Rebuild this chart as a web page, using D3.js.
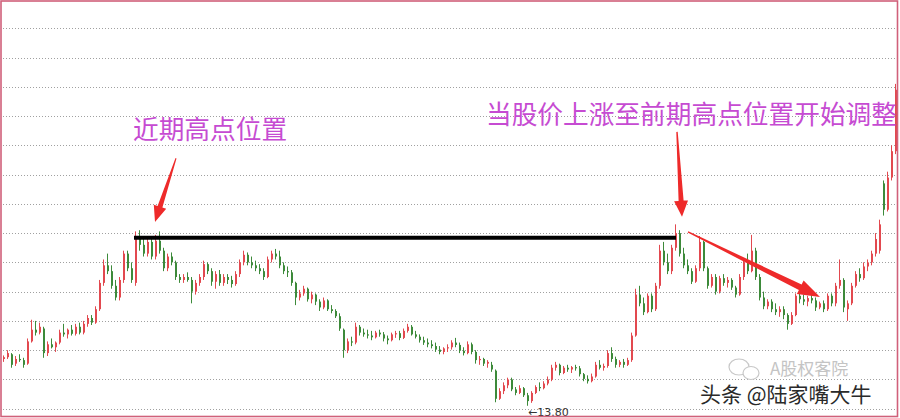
<!DOCTYPE html>
<html><head><meta charset="utf-8">
<script src="https://cdn.jsdelivr.net/npm/d3@7/dist/d3.min.js"></script>
<style>html,body{margin:0;padding:0;background:#fff;overflow:hidden}</style>
</head><body><svg id="chart" width="900" height="418"></svg>
<script>
// ---- data ----
const opens = [
14.60,14.63,14.68,14.52,14.60,14.58,14.52,14.90,15.10,15.05,
15.12,14.70,14.85,14.80,14.88,15.05,15.02,15.10,15.03,15.15,
15.05,15.20,15.30,15.22,15.45,15.90,16.20,16.10,15.85,15.65,
15.95,16.40,16.15,15.90,16.65,16.55,16.40,16.60,16.35,16.62,
16.45,16.15,16.35,16.25,16.00,15.95,16.00,15.95,15.75,15.90,
16.00,16.22,16.10,15.92,16.05,15.90,16.00,15.95,15.88,16.05,
16.25,16.38,16.25,16.20,16.15,16.10,16.00,16.30,16.40,16.35,
16.20,16.10,16.08,15.90,15.65,15.72,15.80,15.62,15.70,15.58,
15.48,15.60,15.45,15.42,15.33,15.10,14.75,14.90,14.88,15.15,
15.05,15.02,15.00,14.97,15.05,15.02,14.95,14.92,15.02,15.04,
14.96,15.08,15.15,15.02,14.98,14.92,14.88,14.85,14.82,14.76,
14.72,14.78,14.80,14.88,14.84,14.74,14.70,14.85,14.72,14.58,
14.60,14.52,14.50,14.40,13.92,14.05,14.15,14.25,14.08,14.02,
14.10,13.98,13.88,14.02,14.12,14.10,14.18,14.25,14.45,14.50,
14.36,14.45,14.42,14.46,14.44,14.34,14.26,14.22,14.30,14.50,
14.45,14.48,14.70,14.60,14.50,14.55,14.50,14.58,15.00,15.70,
15.55,15.40,15.68,15.45,15.85,16.45,16.25,16.10,16.50,16.75,
16.40,16.20,16.10,15.92,16.15,16.60,16.15,15.85,16.00,15.75,
15.98,15.90,15.95,15.82,15.70,16.00,16.25,16.10,16.45,16.00,
15.65,15.50,15.58,15.45,15.40,15.45,15.35,15.20,15.35,15.68,
15.62,15.58,15.64,15.60,15.48,15.55,15.45,15.68,15.55,15.85,
15.95,15.45,15.55,15.85,16.05,15.98,16.18,16.25,16.40,16.45,
17.60,17.15,17.70,18.15];
const highs = [
14.66,14.75,14.70,14.65,14.68,14.62,14.95,15.27,15.25,15.22,
15.15,14.90,14.95,14.90,15.10,15.20,15.12,15.18,15.20,15.22,
15.25,15.35,15.35,15.50,15.95,16.30,16.40,16.20,15.95,16.00,
16.45,16.45,16.25,16.78,16.80,16.70,16.65,16.68,16.72,16.78,
16.50,16.40,16.42,16.28,16.05,16.05,16.08,16.00,15.95,16.05,
16.28,16.25,16.15,16.10,16.12,16.05,16.05,16.02,16.10,16.30,
16.45,16.42,16.35,16.28,16.22,16.15,16.35,16.45,16.48,16.45,
16.25,16.18,16.12,15.92,15.78,15.85,15.82,15.75,15.72,15.62,
15.65,15.62,15.52,15.45,15.38,15.12,14.95,14.98,15.22,15.18,
15.12,15.10,15.08,15.08,15.10,15.06,15.00,15.05,15.08,15.08,
15.12,15.20,15.18,15.08,15.02,14.98,14.95,14.92,14.88,14.82,
14.80,14.85,14.92,14.96,14.88,14.80,14.90,14.88,14.75,14.65,
14.62,14.58,14.55,14.42,14.10,14.20,14.28,14.28,14.12,14.15,
14.12,14.02,14.05,14.15,14.20,14.22,14.30,14.50,14.55,14.52,
14.48,14.50,14.48,14.50,14.48,14.36,14.32,14.35,14.55,14.58,
14.52,14.75,14.80,14.64,14.58,14.60,14.62,15.05,15.80,15.85,
15.65,15.72,15.72,15.90,16.55,16.60,16.40,16.55,16.90,16.80,
16.50,16.30,16.15,16.20,16.70,16.62,16.18,16.05,16.05,16.02,
16.05,16.00,15.98,15.85,16.05,16.30,16.40,16.72,16.50,16.05,
15.75,15.62,15.62,15.55,15.50,15.50,15.38,15.40,15.72,15.75,
15.70,15.68,15.70,15.65,15.58,15.60,15.72,15.72,15.90,16.30,
15.98,15.60,15.90,16.10,16.15,16.25,16.30,16.45,16.75,16.98,
17.65,17.80,18.25,19.30];
const lows = [
14.55,14.60,14.45,14.48,14.55,14.45,14.50,14.88,15.00,15.02,
14.62,14.65,14.78,14.72,14.85,14.98,14.95,15.00,15.00,15.02,
15.02,15.15,15.18,15.20,15.42,15.85,16.05,15.80,15.60,15.60,
15.90,16.10,15.90,15.85,16.45,16.35,16.35,16.30,16.30,16.40,
16.10,16.10,16.20,15.95,15.90,15.90,15.92,15.55,15.70,15.85,
15.95,16.05,15.85,15.80,15.85,15.85,15.88,15.82,15.85,16.00,
16.20,16.20,16.15,16.10,16.05,15.95,15.98,16.25,16.30,16.15,
16.05,16.00,15.85,15.52,15.60,15.68,15.58,15.55,15.52,15.42,
15.45,15.42,15.38,15.30,15.08,14.62,14.70,14.82,14.85,15.00,
14.98,14.95,14.92,14.95,14.98,14.90,14.85,14.90,14.96,14.92,
14.94,15.05,15.00,14.95,14.88,14.84,14.80,14.78,14.72,14.68,
14.68,14.72,14.76,14.80,14.70,14.66,14.68,14.68,14.52,14.50,
14.48,14.45,14.38,13.86,13.90,14.00,14.10,14.05,13.98,14.00,
13.95,13.80,13.85,14.00,14.05,14.08,14.15,14.22,14.40,14.32,
14.34,14.38,14.36,14.40,14.30,14.22,14.18,14.20,14.28,14.42,
14.40,14.45,14.55,14.45,14.46,14.45,14.48,14.55,14.98,15.50,
15.35,15.38,15.40,15.42,15.80,16.20,16.05,16.05,16.45,16.35,
16.15,16.05,15.88,15.90,16.10,16.10,15.80,15.82,15.70,15.72,
15.85,15.82,15.78,15.65,15.68,15.95,16.05,16.08,15.95,15.60,
15.45,15.45,15.40,15.35,15.32,15.28,15.10,15.18,15.33,15.55,
15.52,15.50,15.55,15.42,15.45,15.40,15.42,15.50,15.50,15.80,
15.40,15.25,15.52,15.82,15.92,15.95,16.10,16.20,16.35,16.40,
17.05,17.12,17.65,18.10];
const closes = [
14.63,14.70,14.50,14.60,14.58,14.50,14.90,15.10,15.05,15.15,
14.70,14.85,14.80,14.88,15.05,15.02,15.10,15.03,15.15,15.05,
15.20,15.30,15.22,15.45,15.90,16.20,16.10,15.85,15.65,15.95,
16.40,16.15,15.95,16.65,16.55,16.40,16.60,16.35,16.62,16.45,
16.15,16.35,16.25,16.00,15.95,16.00,15.95,15.75,15.90,16.00,
16.22,16.10,15.92,16.05,15.90,16.00,15.95,15.88,16.05,16.25,
16.38,16.25,16.20,16.15,16.10,16.00,16.30,16.40,16.35,16.20,
16.10,16.08,15.90,15.65,15.72,15.80,15.62,15.70,15.58,15.48,
15.60,15.45,15.42,15.33,15.12,14.75,14.90,14.88,15.15,15.05,
15.02,15.00,14.97,15.05,15.02,14.95,14.92,15.02,15.04,14.96,
15.08,15.15,15.02,14.98,14.92,14.88,14.85,14.82,14.76,14.72,
14.78,14.80,14.88,14.84,14.74,14.70,14.85,14.72,14.58,14.60,
14.52,14.55,14.42,13.92,14.05,14.15,14.25,14.08,14.02,14.10,
13.98,13.88,14.02,14.12,14.10,14.18,14.25,14.45,14.50,14.36,
14.45,14.42,14.46,14.44,14.34,14.26,14.22,14.30,14.50,14.45,
14.48,14.70,14.60,14.50,14.55,14.50,14.58,15.00,15.70,15.55,
15.40,15.68,15.45,15.85,16.45,16.25,16.10,16.50,16.75,16.40,
16.20,16.10,15.92,16.15,16.60,16.15,15.85,16.00,15.75,15.98,
15.90,15.95,15.82,15.70,16.00,16.25,16.10,16.45,16.00,15.65,
15.50,15.58,15.45,15.40,15.45,15.35,15.20,15.35,15.68,15.62,
15.58,15.64,15.60,15.48,15.55,15.45,15.68,15.55,15.85,15.95,
15.48,15.55,15.85,16.05,15.98,16.18,16.25,16.40,16.65,16.90,
17.15,17.70,18.15,19.20];

const gridPrices = [13.75,14.25,14.75,15.25,15.75,16.25,16.75,17.25,17.75,18.25,18.75,19.25,19.75,20.25];
const lowLabelText = "\u219013.80";

// annotations, in (candle index, price)
const refLine = {from: 32.5, to: 168, price: 16.67};
const arrows = [
  {from:[43.0,18.03], to:[37.75,16.94], w0:1, w1:5, hw:13, hl:16},
  {from:[168.25,18.48], to:[169.5,17.03], w0:1.5, w1:5, hw:14, hl:16},
  {from:[171,16.77], to:[204,15.66], w0:1.5, w1:6, hw:15, hl:22}
];
const notes = [
  {text:"近期高点位置", x:133, y:139},
  {text:"当股价上涨至前期高点位置开始调整", x:486, y:124}
];
const watermarkMain = "头条 @陆家嘴大牛";
const watermarkSub = "A股权客院";

// ---- drawing ----
const W = 900, H = 418;
const svg = d3.select("#chart");
const n = closes.length;
const data = d3.range(n).map(i => ({i, o:opens[i], h:highs[i], l:lows[i], c:closes[i]}));

const x = d3.scaleBand().domain(d3.range(n)).range([2, 898]).paddingInner(0.5).paddingOuter(0.25);
const cx = i => x(Math.floor(i)) + x.bandwidth()/2 + (i - Math.floor(i)) * x.step();
const y = d3.scaleLinear().domain([13.75, 20.25]).range([408.7, 28.3]);

svg.append("rect").attr("width", W).attr("height", H).attr("fill", "#fff");

// grid
svg.append("g").selectAll("line").data(gridPrices).join("line")
  .attr("x1", 3).attr("x2", 896)
  .attr("y1", d => Math.round(y(d)) + 0.5).attr("y2", d => Math.round(y(d)) + 0.5)
  .attr("stroke", "#a0a0a0").attr("stroke-width", 1).attr("stroke-dasharray", "1,2");

// candles
const up = "#e2494f", down = "#3d8a3a";
const g = svg.append("g");
g.selectAll("line.wick").data(data).join("line").attr("class","wick")
  .attr("x1", d => cx(d.i) - 0.5).attr("x2", d => cx(d.i) - 0.5)
  .attr("y1", d => y(d.h)).attr("y2", d => y(d.l))
  .attr("stroke", d => d.c >= d.o ? up : down).attr("stroke-width", 1);
g.selectAll("rect.body").data(data).join("rect").attr("class","body")
  .attr("x", d => x(d.i)).attr("width", x.bandwidth())
  .attr("y", d => y(Math.max(d.o, d.c)))
  .attr("height", d => Math.max(1, Math.abs(y(d.o) - y(d.c))))
  .attr("fill", d => d.c >= d.o ? up : down);

// reference line
svg.append("line")
  .attr("x1", cx(refLine.from)).attr("x2", cx(refLine.to))
  .attr("y1", y(refLine.price)).attr("y2", y(refLine.price))
  .attr("stroke", "#000").attr("stroke-width", 4);

// arrows
function arrowPath(x1,y1,x2,y2,w0,w1,hw,hl){
  const dx=x2-x1, dy=y2-y1, L=Math.hypot(dx,dy), ux=dx/L, uy=dy/L, nx=-uy, ny=ux;
  const bx=x2-ux*hl, by=y2-uy*hl;
  const p=[[x1+nx*w0/2,y1+ny*w0/2],[bx+nx*w1/2,by+ny*w1/2],[bx+nx*hw/2,by+ny*hw/2],[x2,y2],
           [bx-nx*hw/2,by-ny*hw/2],[bx-nx*w1/2,by-ny*w1/2],[x1-nx*w0/2,y1-ny*w0/2]];
  return "M"+p.map(q=>q[0].toFixed(1)+","+q[1].toFixed(1)).join("L")+"Z";
}
svg.append("g").selectAll("path").data(arrows).join("path")
  .attr("d", a => arrowPath(cx(a.from[0]), y(a.from[1]), cx(a.to[0]), y(a.to[1]), a.w0, a.w1, a.hw, a.hl))
  .attr("fill", "#ee2a2a");

// notes
svg.append("g").selectAll("text").data(notes).join("text")
  .attr("x", d => d.x).attr("y", d => d.y)
  .attr("font-family", "'Noto Sans CJK SC', sans-serif").attr("font-size", 25.7)
  .attr("fill", "#c64bd2").text(d => d.text);

// low label
const minIdx = d3.minIndex(lows);
svg.append("text").attr("x", cx(minIdx)).attr("y", 416)
  .attr("font-family", "'DejaVu Sans', sans-serif").attr("font-size", 11)
  .attr("fill", "#333").text(lowLabelText);

// watermarks
const wm = svg.append("g");
wm.append("ellipse").attr("cx", 739).attr("cy", 367).attr("rx", 10).attr("ry", 8)
  .attr("fill", "none").attr("stroke", "#c8c8c8").attr("stroke-width", 1.2);
wm.append("ellipse").attr("cx", 751).attr("cy", 373).attr("rx", 8).attr("ry", 6.5)
  .attr("fill", "#fff").attr("stroke", "#c8c8c8").attr("stroke-width", 1.2);
wm.append("text").attr("x", 770).attr("y", 375)
  .attr("font-family", "'Noto Sans CJK SC', sans-serif").attr("font-size", 17)
  .attr("fill", "#c4c4c4").text(watermarkSub);
wm.append("text").attr("x", 700).attr("y", 402)
  .attr("font-family", "'Noto Sans CJK SC', sans-serif").attr("font-size", 21)
  .attr("fill", "#2a2a2a").attr("stroke", "#fff").attr("stroke-width", 3)
  .attr("paint-order", "stroke").text(watermarkMain);

// border
svg.append("rect").attr("x", 1).attr("y", 1).attr("width", 896.5).attr("height", 415.5)
  .attr("fill", "none").attr("stroke", "#d0607a").attr("stroke-width", 1.6);
</script></body></html>
